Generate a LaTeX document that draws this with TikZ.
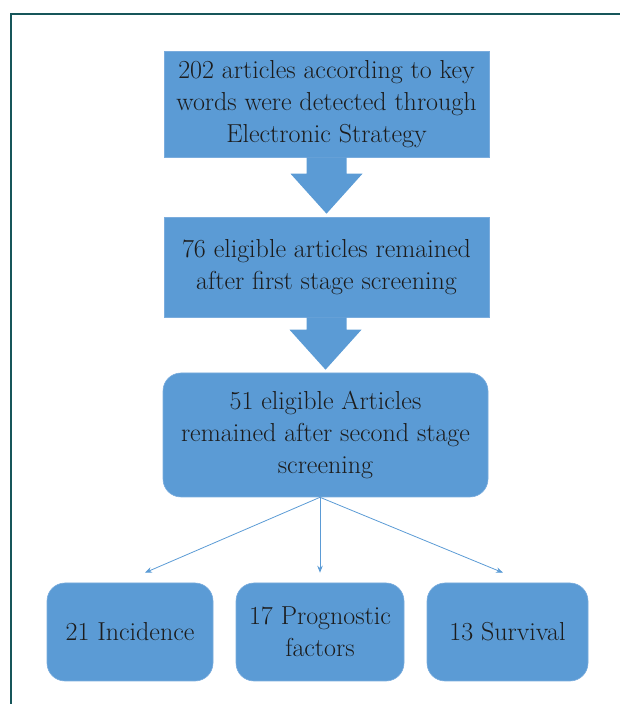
\documentclass[tikz,border=0pt]{standalone}
\usepackage{fontspec}
\usetikzlibrary{arrows.meta,calc}
\definecolor{boxblue}{RGB}{91,155,213}
\definecolor{boxedge}{RGB}{122,172,221}
\definecolor{frameteal}{RGB}{22,86,90}
\definecolor{ink}{RGB}{28,28,28}
\newcommand\bigdown[2]{\fill[blk] ($(#1.south)+(-20,0)$) |- ($(#2.north)+(-36,43)$) -- ($(#2.north)+(0,3)$) -- ($(#2.north)+(36,43)$) -| ($(#1.south)+(20,0)$) -- cycle;}

\begin{document}
\begin{tikzpicture}[x=1pt,y=1pt,font=\fontsize{26}{32}\selectfont,
  sq/.style={fill=boxblue,draw=boxedge,line width=.6pt,align=center,inner sep=0pt,text=ink},
  rd/.style={sq,rounded corners=18pt},
  blk/.style={fill=boxblue},
  ed/.style={-{Stealth[length=7pt,width=5.5pt]},boxblue,line width=.8pt},
  frm/.style={frameteal,line width=1.5pt}]
\useasboundingbox (0,0) rectangle (620,704);
\draw[frm] (11,0) |- (620,690);
\node[sq,minimum width=325pt,minimum height=106pt] (s1) at (326.5,600) {202 articles according to key\\words were detected through\\Electronic Strategy};
\node[sq,minimum width=325pt,minimum height=100pt] (s2) at (326.5,437) {76 eligible articles remained\\after first stage screening};
\node[rd,minimum width=325pt,minimum height=124pt] (s3) at (325.5,269) {51 eligible Articles\\remained after second stage\\screening};
\node[rd,minimum width=166pt,minimum height=98pt] (a) at (130,72) {21 Incidence};
\node[rd,minimum width=168pt,minimum height=98pt] (b) at (320,72) {17 Prognostic\\factors};
\node[rd,minimum width=161pt,minimum height=98pt] (c) at (507.5,72) {13 Survival};
\bigdown{s1}{s2}
\bigdown{s2}{s3}
\coordinate (fan) at (s3.south -| b.north);
\coordinate (ta) at ($(a.north)+(15,10)$);
\coordinate (tb) at ($(b.north)+(0,10)$);
\coordinate (tc) at ($(c.north)+(-4.5,10)$);
\foreach \t in {ta,tb,tc} {\draw[ed] (fan) -- (\t);}
\end{tikzpicture}
\end{document}
